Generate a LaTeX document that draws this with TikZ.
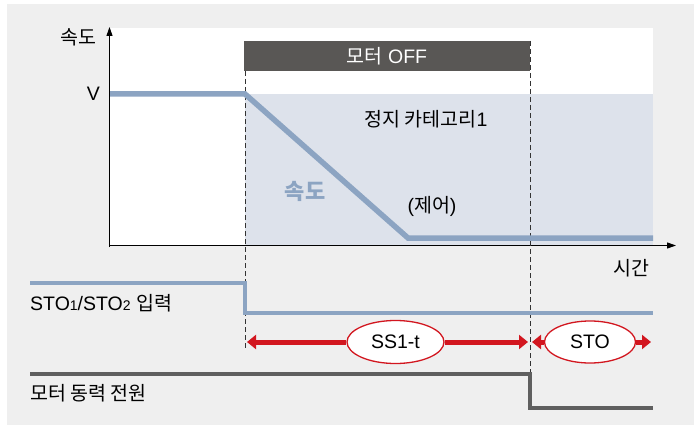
\documentclass[tikz,border=0pt]{standalone}
\usepackage{fontspec}
\setmainfont{Liberation Sans}
\newfontfamily\kr{Noto Sans CJK KR}
\usetikzlibrary{arrows.meta,shapes.geometric}
\definecolor{bgc}{HTML}{EFEFEF}
\definecolor{speedc}{HTML}{8CA4C2}
\definecolor{zonec}{HTML}{DDE2EB}
\definecolor{barc}{HTML}{595755}
\definecolor{powc}{HTML}{5F5F5F}
\definecolor{redc}{HTML}{D2161F}
\tikzset{
  txt/.style={inner sep=0pt, font=\fontsize{19.5}{21}\selectfont},
  axisline/.style={line width=1pt, -{Triangle[length=9pt,width=6pt]}},
  guide/.style={line width=1pt, draw=black!80, dash pattern=on 5pt off 3pt},
  speedline/.style={line width=5.5pt, draw=speedc},
  stoline/.style={line width=3.3pt, draw=speedc},
  powline/.style={line width=3.8pt, draw=powc},
  redarrow/.style={line width=5pt, draw=redc, -{Triangle[length=9pt,width=14pt]}},
  oval/.style={ellipse, draw=redc, line width=1.3pt, fill=white, inner sep=0pt, font=\fontsize{19.5}{21}\selectfont}
}
\begin{document}
\begin{tikzpicture}[x=1pt,y=-1pt]
\useasboundingbox (0,0) rectangle (694,425);
\fill[bgc] (7,4) rectangle (694,425);
% plot area
\fill[white] (110,28) rectangle (653,245);
\fill[zonec] (245,94) rectangle (653,245);
% motor off bar
\fill[barc] (244,41) rectangle (530,71);
\node[txt, text=white] (off) at (387,56) {{\kr 모터} OFF};
% axes
\coordinate (ytop) at (109.5,27);
\coordinate (xend) at (676,245.5);
\draw[axisline] (109.5,247) -- (ytop);
\draw[axisline] (109,245.5) -- (xend);
% guides
\coordinate (g1t) at (245,71);
\coordinate (g1b) at (245,348);
\coordinate (g2t) at (530,41);
\coordinate (g2b) at (530,374);
\draw[guide] (g1t) -- (g1b);
\draw[guide] (g2t) -- (g2b);
% speed line
\coordinate (s0) at (110,94);
\coordinate (s1) at (245,94);
\coordinate (s2) at (408,238);
\coordinate (s3) at (653,238);
\draw[speedline, line join=miter] (s0) -- (s1) -- (s2) -- (s3);
% labels
\node[txt] (ylab) at (78,37) {\kr 속도};
\node[txt] (vlab) at (93.5,94) {V};
\node[txt] (xlab) at (631,268) {\kr 시간};
\node[txt] (cat) at (426,119) {{\kr 정지 카테고리}1};
\node[txt, text=speedc, font=\fontsize{22}{24}\selectfont\bfseries] (spd) at (305,191) {\kr 속도};
\node[txt] (ctrl) at (432,206) {({\kr 제어})};
% STO input line
\coordinate (t0) at (30,283);
\coordinate (t1) at (245,283);
\coordinate (t2) at (245,313);
\coordinate (t3) at (653,313);
\draw[stoline] (t0) -- (t1) -- (t2) -- (t3);
\node[txt, anchor=west] (stolab) at (30,303) {STO{\fontsize{14}{15}\selectfont 1}/STO{\fontsize{14}{15}\selectfont 2} {\kr 입력}};
% red arrows
\node[oval, minimum width=97pt, minimum height=43pt] (ss1) at (395.5,342) {SS1-t};
\node[oval, minimum width=91pt, minimum height=42pt] (sto) at (590,342) {STO};
\coordinate (a1) at (247,342);
\coordinate (a2) at (528,342);
\coordinate (a3) at (532,342);
\coordinate (a4) at (651,342);
\draw[redarrow] (ss1.west) -- (a1);
\draw[redarrow] (ss1.east) -- (a2);
\draw[redarrow] (sto.west) -- (a3);
\draw[redarrow] (sto.east) -- (a4);
% motor power line
\coordinate (p0) at (30,374);
\coordinate (p1) at (530,374);
\coordinate (p2) at (530,408);
\coordinate (p3) at (653,408);
\draw[powline] (p0) -- (p1) -- (p2) -- (p3);
\node[txt, anchor=west] (powlab) at (30,393) {\kr 모터 동력 전원};
\end{tikzpicture}
\end{document}
